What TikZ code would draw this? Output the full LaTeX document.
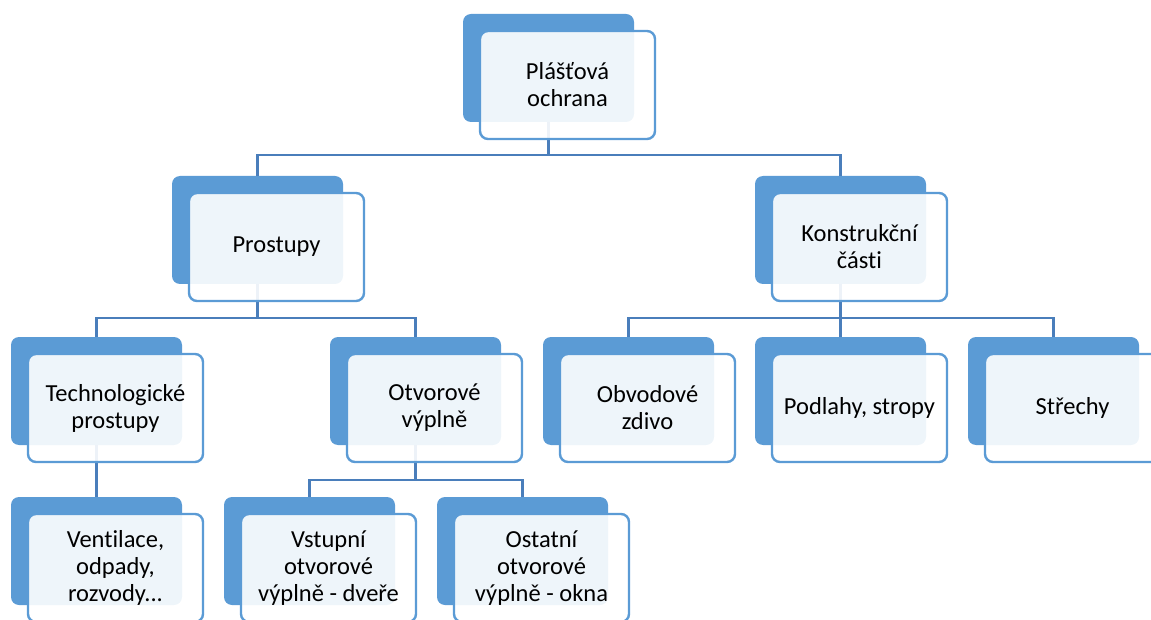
\documentclass[tikz,border=0pt]{standalone}
\usepackage{fontspec}
\setmainfont{Carlito}[Ligatures=NoCommon]
\definecolor{boxblue}{RGB}{91,155,213}
\definecolor{linkblue}{RGB}{74,126,187}
\tikzset{
  backbox/.style={fill=boxblue, rounded corners=8pt, minimum width=171pt,
    minimum height=108pt, inner sep=0pt, outer sep=0pt},
  frontbox/.style={draw=boxblue, line width=2.4pt, fill=white, fill opacity=0.9,
    text opacity=1, rounded corners=8pt, minimum width=175pt, minimum height=108pt,
    inner sep=0pt, align=center, text=black, font=\fontsize{24.5}{27}\selectfont},
  link/.style={draw=linkblue, line width=2.2pt},
}
\begin{document}
\begin{tikzpicture}[x=1pt,y=-1pt]
\useasboundingbox (0,0) rectangle (1151,620);

% solid back plates
\node[backbox] (top)  at (548.5,68)  {};
\node[backbox] (pro)  at (257.5,230) {};
\node[backbox] (kon)  at (840.5,230) {};
\node[backbox] (tech) at (96.5,391)  {};
\node[backbox] (otv)  at (415.5,391) {};
\node[backbox] (obv)  at (628.5,391) {};
\node[backbox] (pod)  at (840.5,391) {};
\node[backbox] (str)  at (1053.5,391) {};
\node[backbox] (ven)  at (96.5,551)  {};
\node[backbox] (vst)  at (309.5,551) {};
\node[backbox] (ost)  at (522.5,551) {};

% tree connectors
\draw[link] (top.south) -- ++(0,33) -| (pro.north);
\draw[link] (top.south) -- ++(0,33) -| (kon.north);
\draw[link] (pro.south) -- ++(0,34) -| (tech.north);
\draw[link] (pro.south) -- ++(0,34) -| (otv.north);
\draw[link] (kon.south) -- ++(0,34) -| (obv.north);
\draw[link] (kon.south) -- ++(0,34) -| (pod.north);
\draw[link] (kon.south) -- ++(0,34) -| (str.north);
\draw[link] (tech.south) -- (ven.north);
\draw[link] (otv.south) -- ++(0,35) -| (vst.north);
\draw[link] (otv.south) -- ++(0,35) -| (ost.north);

% translucent text cards
\node[frontbox] (top-t)  at ([shift={(19,17)}]top.center)  {Plášťová\\ochrana};
\node[frontbox] (pro-t)  at ([shift={(19,17)}]pro.center)  {Prostupy};
\node[frontbox] (kon-t)  at ([shift={(19,17)}]kon.center)  {Konstrukční\\části};
\node[frontbox] (tech-t) at ([shift={(19,17)}]tech.center) {Technologické\\prostupy};
\node[frontbox] (otv-t)  at ([shift={(19,17)}]otv.center)  {Otvorové\\výplně};
\node[frontbox] (obv-t)  at ([shift={(19,17)}]obv.center)  {Obvodové\\zdivo};
\node[frontbox] (pod-t)  at ([shift={(19,17)}]pod.center)  {Podlahy, stropy};
\node[frontbox] (str-t)  at ([shift={(19,17)}]str.center)  {Střechy};
\node[frontbox] (ven-t)  at ([shift={(19,17)}]ven.center)  {Ventilace,\\odpady,\\rozvody...};
\node[frontbox] (vst-t)  at ([shift={(19,17)}]vst.center)  {Vstupní\\otvorové\\výplně - dveře};
\node[frontbox] (ost-t)  at ([shift={(19,17)}]ost.center)  {Ostatní\\otvorové\\výplně - okna};
\end{tikzpicture}
\end{document}
